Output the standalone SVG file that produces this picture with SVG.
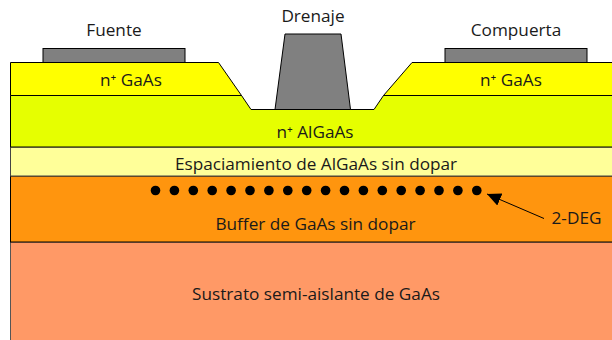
<svg xmlns="http://www.w3.org/2000/svg" width="612" height="340" viewBox="0 0 612 340">
<style>
text{font-family:"Open Sans","Noto Sans","DejaVu Sans",sans-serif;font-size:17.2px;fill:#1a1a1a;text-anchor:middle}
.l{stroke:#000;stroke-width:1}
.m{fill:#808080;stroke:#000;stroke-width:1}
.d{fill:#000}
circle{r:4.8px}
</style>
<defs><marker id="a" markerUnits="userSpaceOnUse" markerWidth="16" markerHeight="14" refX="14" refY="6.5" orient="auto"><path d="M0 0L14 6.5L0 13Z" fill="#000"/></marker></defs>
<g id="sustrato"><rect x="10.500" y="242" width="602" height="99" fill="#ff9966" stroke="#555"/><text x="316" y="300">Sustrato semi-aislante de GaAs</text></g>
<g id="buffer"><rect x="10.500" y="176" width="602" height="66" fill="#ff950e" class="l"/><text x="315.500" y="230">Buffer de GaAs sin dopar</text></g>
<g id="espaciador"><rect x="10.500" y="147" width="602" height="29" fill="#ffff99" stroke="#444"/><text x="316" y="170">Espaciamiento de AlGaAs sin dopar</text></g>
<g id="algaas"><path d="M10.500 147V95.500H241.500L251 109.500H374L383.500 95.500H613V147Z" fill="#e6ff00" class="l"/><text x="315" y="138">n⁺ AlGaAs</text></g>
<g id="gaas-izq"><path d="M10.500 95.500V62.500H218.500L241.500 95.500Z" fill="#ffff00" class="l"/><text x="131" y="86">n⁺ GaAs</text></g>
<g id="gaas-der"><path d="M613 95.500V62.500H412L383.500 95.500Z" fill="#ffff00" class="l"/><text x="511" y="86">n⁺ GaAs</text></g>
<g id="fuente"><rect x="43" y="48.500" width="142" height="14" class="m"/><text x="114" y="36">Fuente</text></g>
<g id="drenaje"><path d="M275 109.500L285 34H341L350.500 109.500Z" class="m"/><text x="313" y="22">Drenaje</text></g>
<g id="compuerta"><rect x="445" y="48.500" width="142" height="14" class="m"/><text x="516" y="36">Compuerta</text></g>
<g id="deg" class="d"><circle cx="155.500" cy="190.500" r="4.800"/><circle cx="174.400" cy="190.500" r="4.800"/><circle cx="193.300" cy="190.500" r="4.800"/><circle cx="212.200" cy="190.500" r="4.800"/><circle cx="231.100" cy="190.500" r="4.800"/><circle cx="250" cy="190.500" r="4.800"/><circle cx="268.900" cy="190.500" r="4.800"/><circle cx="287.800" cy="190.500" r="4.800"/><circle cx="306.700" cy="190.500" r="4.800"/><circle cx="325.600" cy="190.500" r="4.800"/><circle cx="344.500" cy="190.500" r="4.800"/><circle cx="363.400" cy="190.500" r="4.800"/><circle cx="382.300" cy="190.500" r="4.800"/><circle cx="401.200" cy="190.500" r="4.800"/><circle cx="420.100" cy="190.500" r="4.800"/><circle cx="439" cy="190.500" r="4.800"/><circle cx="457.900" cy="190.500" r="4.800"/><circle cx="476.800" cy="190.500" r="4.800"/></g>
<g id="conectores"><line x1="544" y1="218.500" x2="487" y2="194" class="l" marker-end="url(#a)"/></g>
<g id="etiqueta"><text x="576.500" y="224">2-DEG</text></g>
</svg>
